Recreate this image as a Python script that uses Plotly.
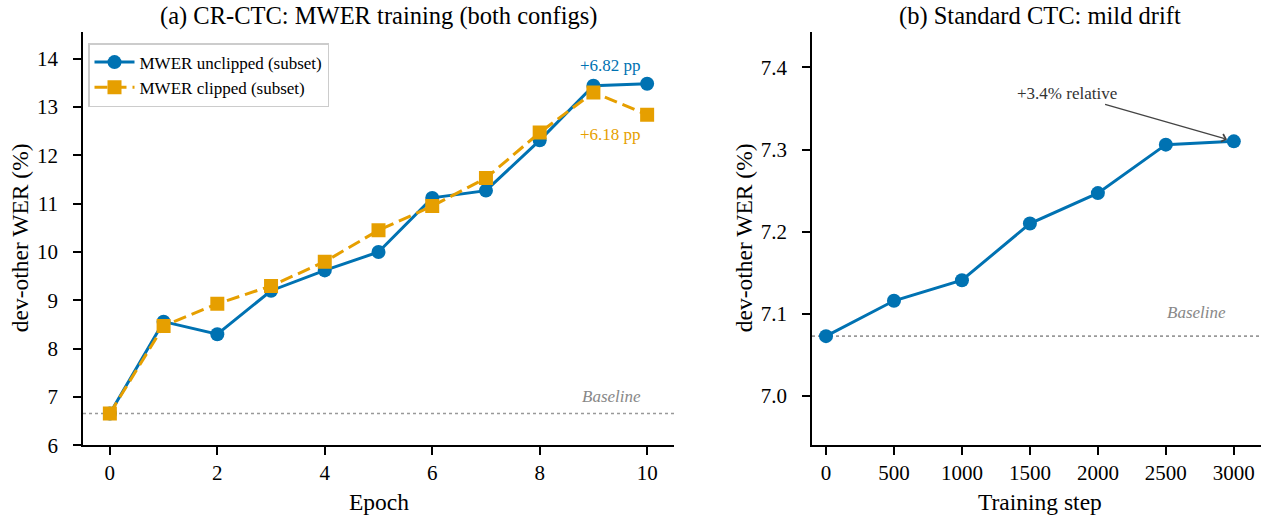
import plotly.graph_objects as go

W, H = 1261, 516
# Vertical extent the page is actually drawn into (paper fractions are scaled against it)
H_EFF = 503.5

# Panel (a): CR-CTC MWER training, dev-other WER per epoch
epochs = list(range(11))
wer_unclipped = [6.66, 8.56, 8.30, 9.20, 9.62, 10.00, 11.12, 11.27, 12.31, 13.44, 13.48]
wer_clipped = [6.66, 8.47, 8.93, 9.30, 9.80, 10.45, 10.95, 11.53, 12.47, 13.30, 12.84]
baseline_a = 6.66

# Panel (b): standard CTC, dev-other WER per training step
steps = [0, 500, 1000, 1500, 2000, 2500, 3000]
wer_std = [7.073, 7.116, 7.141, 7.210, 7.247, 7.306, 7.310]
baseline_b = 7.073

BLUE = "#0072B2"
ORANGE = "#E69F00"
FONT = "Liberation Serif"

delta_unclipped = wer_unclipped[-1] - baseline_a
delta_clipped = wer_clipped[-1] - baseline_a
rel_change = (wer_std[-1] / baseline_b - 1) * 100


def px(x):
    return x / W


def py(y):
    return 1 - y / H_EFF


fig = go.Figure()

fig.add_trace(go.Scatter(
    x=epochs, y=wer_unclipped, mode="lines+markers",
    name="MWER unclipped (subset)",
    line=dict(color=BLUE, width=3),
    marker=dict(symbol="circle", size=14, color=BLUE),
    xaxis="x", yaxis="y",
))
fig.add_trace(go.Scatter(
    x=epochs, y=wer_clipped, mode="lines+markers",
    name="MWER clipped (subset)",
    line=dict(color=ORANGE, width=3, dash="13px,6px"),
    marker=dict(symbol="square", size=14, color=ORANGE),
    xaxis="x", yaxis="y",
))
fig.add_trace(go.Scatter(
    x=steps, y=wer_std, mode="lines+markers",
    name="Standard CTC", showlegend=False,
    line=dict(color=BLUE, width=3),
    marker=dict(symbol="circle", size=14, color=BLUE),
    xaxis="x2", yaxis="y2",
))

# Baseline reference lines
for xref, yref, val in (("x domain", "y", baseline_a), ("x2 domain", "y2", baseline_b)):
    fig.add_shape(type="line", xref=xref, yref=yref, x0=0, x1=1, y0=val, y1=val,
                  line=dict(color="#999999", width=1.6, dash="dot"), layer="below")

axis_common = dict(
    showline=True, linecolor="black", linewidth=1.6,
    ticks="outside", ticklen=8, tickwidth=1.5, tickcolor="black",
    showgrid=False, zeroline=False,
    tickfont=dict(family=FONT, size=21, color="black"),
)

y_dom = [py(445), py(32)]
fig.update_layout(
    width=W, height=H,
    margin=dict(l=0, r=0, t=0, b=0),
    paper_bgcolor="white", plot_bgcolor="white",
    font=dict(family=FONT, color="black"),
    xaxis=dict(domain=[px(83), px(674)], range=[-0.5, 10.5],
               tickvals=[0, 2, 4, 6, 8, 10], anchor="y", ticklabelstandoff=0, **axis_common),
    yaxis=dict(domain=y_dom, range=[6, 14.55], tickvals=list(range(6, 15)),
               anchor="x", ticklabelstandoff=11, **axis_common),
    xaxis2=dict(domain=[px(812), 1.0], range=[-103, 3200],
                tickvals=steps, anchor="y2", ticklabelstandoff=0, **axis_common),
    yaxis2=dict(domain=y_dom, range=[6.94, 7.443], tickvals=[7.0, 7.1, 7.2, 7.3, 7.4],
                tickformat=".1f", anchor="x2", ticklabelstandoff=11, **axis_common),
    legend=dict(x=px(88), y=py(43), xanchor="left", yanchor="top",
                bgcolor="white", bordercolor="#cccccc", borderwidth=1.5,
                font=dict(family=FONT, size=17, color="black"),
                tracegroupgap=0, itemwidth=40),
    showlegend=True,
)

ann = []
# Panel titles
ann.append(dict(text="(a) CR-CTC: MWER training (both configs)", xref="paper", yref="paper",
                x=px(379), y=py(16), showarrow=False, xanchor="center", yanchor="middle",
                font=dict(family=FONT, size=24.5, color="black")))
ann.append(dict(text="(b) Standard CTC: mild drift", xref="paper", yref="paper",
                x=px(1040), y=py(16), showarrow=False, xanchor="center", yanchor="middle",
                font=dict(family=FONT, size=24.5, color="black")))
# Axis titles
ann.append(dict(text="Epoch", xref="paper", yref="paper", x=px(378.5), y=py(502),
                showarrow=False, xanchor="center", yanchor="middle",
                font=dict(family=FONT, size=23.5, color="black")))
ann.append(dict(text="Training step", xref="paper", yref="paper", x=px(1040), y=py(502),
                showarrow=False, xanchor="center", yanchor="middle",
                font=dict(family=FONT, size=23.5, color="black")))
ann.append(dict(text="dev-other WER (%)", xref="paper", yref="paper", x=px(20), y=py(238),
                showarrow=False, textangle=-90, xanchor="center", yanchor="middle",
                font=dict(family=FONT, size=23.5, color="black")))
ann.append(dict(text="dev-other WER (%)", xref="paper", yref="paper", x=px(744), y=py(238),
                showarrow=False, textangle=-90, xanchor="center", yanchor="middle",
                font=dict(family=FONT, size=23.5, color="black")))
# Delta labels at the last epoch
ann.append(dict(text=f"+{delta_unclipped:.2f} pp", xref="x", yref="y",
                x=epochs[-1], y=wer_unclipped[-1], yshift=7, xshift=-4,
                showarrow=False, xanchor="right", yanchor="bottom",
                font=dict(family=FONT, size=17, color=BLUE)))
ann.append(dict(text=f"+{delta_clipped:.2f} pp", xref="x", yref="y",
                x=epochs[-1], y=wer_clipped[-1], yshift=-8, xshift=-4,
                showarrow=False, xanchor="right", yanchor="top",
                font=dict(family=FONT, size=17, color=ORANGE)))
# Baseline labels
ann.append(dict(text="<i>Baseline</i>", xref="x", yref="y", x=epochs[-1], y=baseline_a,
                xshift=-4, yshift=6, showarrow=False, xanchor="right", yanchor="bottom",
                font=dict(family=FONT, size=17, color="#888888")))
ann.append(dict(text="<i>Baseline</i>", xref="x2", yref="y2", x=steps[-1], y=baseline_b,
                xshift=-6, yshift=12, showarrow=False, xanchor="right", yanchor="bottom",
                font=dict(family=FONT, size=17, color="#888888")))
# Relative change callout
ann.append(dict(text=f"+{rel_change:.1f}% relative", xref="x2", yref="y2",
                x=steps[-1], y=wer_std[-1], ax=-167, ay=-48, axref="pixel", ayref="pixel",
                showarrow=True, arrowhead=4, arrowsize=1.2, arrowwidth=1.3, arrowcolor="#444444",
                standoff=7, font=dict(family=FONT, size=17, color="#333333")))

fig.update_layout(annotations=ann)

fig.write_html("out.html")
